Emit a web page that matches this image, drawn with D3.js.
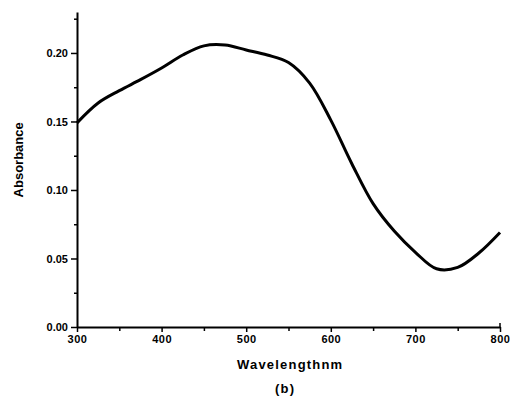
<!DOCTYPE html>
<html>
<head>
<meta charset="utf-8">
<script src="https://cdn.jsdelivr.net/npm/d3@7"></script>
<style>
  body { margin: 0; background: #fff; }
  svg text { font-family: "Liberation Sans", Arial, sans-serif; font-weight: bold; fill: #000; }
</style>
</head>
<body>
<div id="chart"></div>
<script>
// wavelength (nm) and absorbance
var wavelength = [300, 325, 350, 375, 400, 425, 450, 475, 500, 525, 550, 575,
                  600, 625, 650, 675, 700, 725, 750, 775, 800];
var absorbance = [0.149, 0.1635, 0.1725, 0.1805, 0.189, 0.1985, 0.2052, 0.2058, 0.2022, 0.1985, 0.193, 0.178,
                  0.151, 0.119, 0.090, 0.070, 0.0545, 0.0425, 0.0435, 0.054, 0.069];

var xTicks = [300, 400, 500, 600, 700, 800];
var yTicks = [0.00, 0.05, 0.10, 0.15, 0.20];

var svgWidth = 510
var svgHeight = 397

var margin = { top: 12, right: 12, bottom: 70, left: 77 };

var width = svgWidth - margin.left - margin.right
var height = svgHeight - margin.top - margin.bottom

var svg = d3.select("#chart")
    .append("svg")
    .attr("width", svgWidth)
    .attr("height", svgHeight);

var chartGroup = svg.append("g")
    .attr("transform", `translate(${margin.left}, ${margin.top})`);

var data = wavelength.map((w, i) => ({ w: w, a: absorbance[i] }));

var x = d3.scaleLinear().domain([300, 800]).range([0, 423]);
var y = d3.scaleLinear().domain([0, 0.2299]).range([315, 0]);

// minor ticks first
chartGroup.append("g")
    .attr("transform", `translate(0, ${y(0)})`)
    .call(d3.axisBottom(x).tickValues([350, 450, 550, 650, 750]).tickSize(4).tickFormat(""))
    .call(g => g.select(".domain").remove());

chartGroup.append("g")
    .call(d3.axisLeft(y).tickValues([0.025, 0.075, 0.125, 0.175, 0.225]).tickSize(3).tickFormat(""))
    .call(g => g.select(".domain").remove());

// major axes
var xAxis = chartGroup.append("g")
    .attr("transform", `translate(0, ${y(0)})`)
    .call(d3.axisBottom(x).tickValues(xTicks).tickSize(5).tickSizeOuter(0).tickPadding(3).tickFormat(d3.format("d")));

var yAxis = chartGroup.append("g")
    .call(d3.axisLeft(y).tickValues(yTicks).tickSize(6).tickSizeOuter(0).tickPadding(3).tickFormat(d3.format(".2f")));

chartGroup.selectAll(".domain").attr("stroke-width", 2);
chartGroup.selectAll(".tick line").attr("stroke-width", 1.5);
xAxis.selectAll("text").attr("font-size", 11).attr("letter-spacing", 0.5);
yAxis.selectAll("text").attr("font-size", 11);

// small upturn at the right end of the x axis
chartGroup.append("line")
    .attr("x1", x(800)).attr("x2", x(800))
    .attr("y1", y(0)).attr("y2", y(0) - 4)
    .attr("stroke", "#000").attr("stroke-width", 1.5);

// spectrum
var line = d3.line()
    .x(d => x(d.w))
    .y(d => y(d.a))
    .curve(d3.curveCatmullRom);

chartGroup.append("path")
    .datum(data)
    .attr("fill", "none")
    .attr("stroke", "#000")
    .attr("stroke-width", 3)
    .attr("stroke-linejoin", "round")
    .attr("d", line);

// labels
chartGroup.append("text")
    .attr("transform", "rotate(-90)")
    .attr("x", -y(0.122))
    .attr("y", -54)
    .attr("text-anchor", "middle")
    .attr("font-size", 13)
    .text("Absorbance");

chartGroup.append("text")
    .attr("x", x(552))
    .attr("y", 357)
    .attr("text-anchor", "middle")
    .attr("font-size", 13)
    .attr("letter-spacing", 1.2)
    .text("Wavelengthnm");

chartGroup.append("text")
    .attr("x", x(546))
    .attr("y", 381)
    .attr("text-anchor", "middle")
    .attr("font-size", 13)
    .attr("letter-spacing", 1.2)
    .text("(b)");
</script>
</body>
</html>
